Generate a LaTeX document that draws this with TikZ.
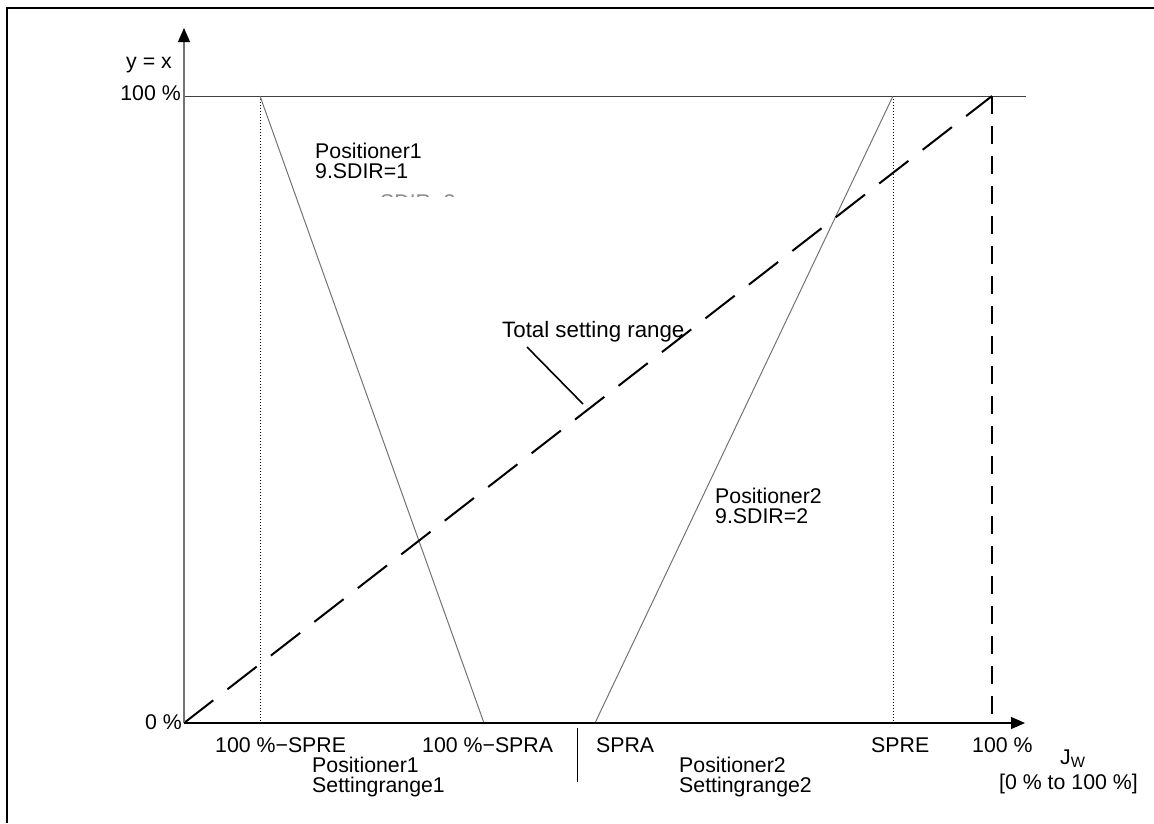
\documentclass[tikz,border=0pt]{standalone}
\usepackage{fontspec}
\setmainfont{Liberation Sans}
\usetikzlibrary{arrows.meta}
\begin{document}
\begin{tikzpicture}[x=1pt,y=-1pt,
  lbl/.style={inner sep=0pt, anchor=base west, font=\fontsize{21.3}{20}\selectfont},
  lblr/.style={lbl, anchor=base east},
  frameline/.style={line width=2pt, black},
  yaxisline/.style={line width=1.2pt, black!55, -{Triangle[length=14pt,width=12pt,color=black]}},
  xaxisline/.style={line width=1.2pt, black, -{Triangle[length=14pt,width=12pt]}},
  topline/.style={line width=1pt, black!75},
  dotline/.style={line width=0.9pt, black, dash pattern=on 1.2pt off 1.8pt},
  posline/.style={line width=1pt, black!55},
  totdash/.style={line width=2pt, black, dash pattern=on 37pt off 18pt},
  vdash/.style={line width=2pt, black, dash pattern=on 18pt off 12pt},
  leader/.style={line width=1.6pt, black},
  sepline/.style={line width=1pt, black}]
\useasboundingbox (0,0) rectangle (1154,823);

% frame (only top and left visible)
\coordinate (F1) at (7,823);
\coordinate (F2) at (7,8);
\coordinate (F3) at (1154,8);
\draw[frameline] (F1) -- (F2) -- (F3);

% key points
\coordinate (O) at (184,723);
\coordinate (Ytip) at (184,28);
\coordinate (Xtip) at (1025,723);
\coordinate (H0) at (184,96);
\coordinate (H1) at (1026,96);
\coordinate (A) at (260,96);
\coordinate (A0) at (260,723);
\coordinate (B0) at (484,723);
\coordinate (C0) at (595,723);
\coordinate (D) at (893,96);
\coordinate (D0) at (893,723);
\coordinate (E) at (992,96);
\coordinate (E0) at (992,723);
\coordinate (S1) at (577,728);
\coordinate (S2) at (577,782);
\coordinate (L1) at (527,347);
\coordinate (L2) at (583,404);

% lines
\draw[topline] (H0) -- (H1);
\draw[dotline] (A) -- (A0);
\draw[dotline] (D) -- (D0);
\draw[posline] (A) -- (B0);
\draw[posline] (C0) -- (D);
\draw[totdash] (O) -- (E);
\draw[vdash] (E) -- (E0);
\draw[leader] (L1) -- (L2);
\draw[sepline] (S1) -- (S2);
\draw[yaxisline] (O) -- (Ytip);
\draw[xaxisline] (O) -- (Xtip);

% axis labels
\node[lblr] (yx) at (172,68) {y = x};
\node[lblr] (y100) at (181,100) {100 \%};
\node[lblr] (y0) at (182,729) {0 \%};

% bottom labels
\node[lbl] (spre1) at (215,752) {100 \%−SPRE};
\node[lbl] (spra1) at (422,752) {100 \%−SPRA};
\node[lbl] (p1a) at (312,772) {Positioner1};
\node[lbl] (p1b) at (312,792) {Settingrange1};
\node[lbl] (spra2) at (596,752) {SPRA};
\node[lbl] (p2a) at (679,772) {Positioner2};
\node[lbl] (p2b) at (679,792) {Settingrange2};
\node[lbl] (spre2) at (871,752) {SPRE};
\node[lbl] (x100) at (972,752) {100 \%};
\node[lbl] (jw) at (1060,764) {J\raisebox{-3pt}{\fontsize{15}{15}\selectfont W}};
\node[lbl] (range) at (999,789) {[0 \% to 100 \%]};

% inner labels
\node[lbl] (pos1) at (315,158) {Positioner1};
\node[lbl] (sdir1) at (315,178) {9.SDIR=1};
\begin{scope}
  \clip (375,193) rectangle (465,196.5);
  \node[lbl, text=black!45] (rem) at (380,209) {SDIR=2};
\end{scope}
\node[lbl] (pos2) at (715,503) {Positioner2};
\node[lbl] (sdir2) at (715,523) {9.SDIR=2};
\node[lbl, font=\fontsize{22.3}{20}\selectfont] (tot) at (502,337) {Total setting range};
\end{tikzpicture}
\end{document}
